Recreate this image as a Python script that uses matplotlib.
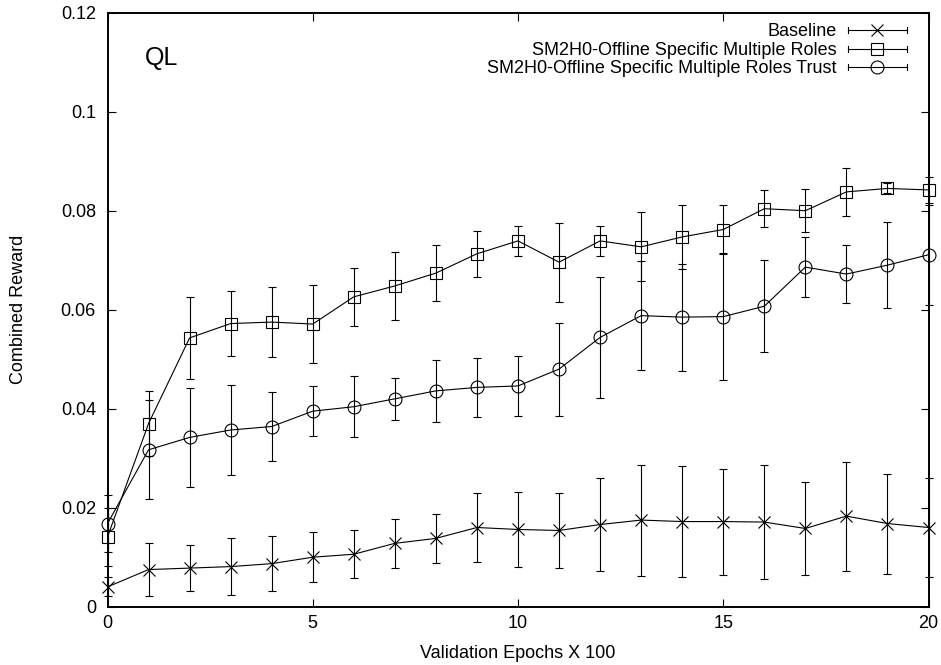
import matplotlib
matplotlib.use("Agg")
import matplotlib.pyplot as plt
from matplotlib.lines import Line2D
from matplotlib.legend_handler import HandlerBase

plt.rcParams['font.family'] = ['Liberation Sans', 'DejaVu Sans']

epochs = list(range(21))

baseline = [0.0040, 0.0075, 0.0078, 0.0081, 0.0087, 0.0100, 0.0106, 0.0128, 0.0138, 0.0160, 0.0156,
            0.0154, 0.0166, 0.0175, 0.0172, 0.0172, 0.0171, 0.0158, 0.0183, 0.0168, 0.0160]
baseline_err = [0.0019, 0.0054, 0.0046, 0.0058, 0.0056, 0.0051, 0.0049, 0.0050, 0.0050, 0.0070, 0.0075,
                0.0075, 0.0093, 0.0112, 0.0112, 0.0107, 0.0116, 0.0094, 0.0110, 0.0101, 0.0101]

roles = [0.0141, 0.0370, 0.0543, 0.0572, 0.0575, 0.0571, 0.0626, 0.0648, 0.0674, 0.0713, 0.0739,
         0.0696, 0.0739, 0.0727, 0.0747, 0.0762, 0.0804, 0.0800, 0.0838, 0.0845, 0.0842]
roles_err = [0.0059, 0.0066, 0.0082, 0.0066, 0.0071, 0.0078, 0.0058, 0.0068, 0.0057, 0.0047, 0.0030,
             0.0080, 0.0031, 0.0070, 0.0065, 0.0050, 0.0037, 0.0044, 0.0048, 0.0010, 0.0027]

trust = [0.0168, 0.0317, 0.0342, 0.0357, 0.0364, 0.0395, 0.0404, 0.0420, 0.0436, 0.0443, 0.0446,
         0.0480, 0.0544, 0.0588, 0.0585, 0.0586, 0.0607, 0.0686, 0.0672, 0.0690, 0.0711]
trust_err = [0.0058, 0.0100, 0.0100, 0.0090, 0.0069, 0.0050, 0.0062, 0.0042, 0.0063, 0.0060, 0.0061,
             0.0094, 0.0122, 0.0110, 0.0108, 0.0128, 0.0093, 0.0060, 0.0058, 0.0087, 0.0101]

labels = ["Baseline",
          "SM2H0-Offline Specific Multiple Roles",
          "SM2H0-Offline Specific Multiple Roles Trust"]
markers = ["x", "s", "o"]
xticks = [0, 5, 10, 15, 20]
xtick_labels = ["0", "5", "10", "15", "20"]
yticks = [0, 0.02, 0.04, 0.06, 0.08, 0.10, 0.12]
ytick_labels = ["0", "0.02", "0.04", "0.06", "0.08", "0.1", "0.12"]

FS = 13
W, H = 941, 665
fig = plt.figure(figsize=(W / 100, H / 100), dpi=100)
L, R, T, B = 107.5, 928.5, 12.7, 606.7
ax = fig.add_axes([L / W, 1 - B / H, (R - L) / W, (B - T) / H])

LW = 0.8
series = [(baseline, baseline_err), (roles, roles_err), (trust, trust_err)]
handles = []
for (vals, errs), m in zip(series, markers):
    eb = ax.errorbar(epochs, vals, yerr=errs, color="black", lw=LW, elinewidth=LW,
                     capsize=3, capthick=LW, marker=m, ms=9.3, mfc="none", mec="black",
                     mew=LW, clip_on=False, zorder=3)
    for art in eb.lines[1] + eb.lines[2]:
        art.set_clip_on(False)
    handles.append(eb.lines[0])


class HandlerKey(HandlerBase):
    def create_artists(self, legend, orig_handle, xdescent, ydescent, width, height,
                       fontsize, trans):
        y = height / 2 - ydescent
        x0, x1 = -xdescent, width - xdescent
        cap = 2.2
        arts = [
            Line2D([x0, x1], [y, y], color="black", lw=LW),
            Line2D([x0, x0], [y - cap, y + cap], color="black", lw=LW),
            Line2D([x1, x1], [y - cap, y + cap], color="black", lw=LW),
            Line2D([(x0 + x1) / 2], [y], marker=orig_handle.get_marker(),
                   ms=orig_handle.get_markersize(), mfc="none", mec="black", mew=LW,
                   linestyle="none"),
        ]
        for a in arts:
            a.set_transform(trans)
        return arts


leg = ax.legend(handles, labels, handler_map={h: HandlerKey() for h in handles},
                loc="upper right", bbox_to_anchor=(906.7 / W, 1 - 23.5 / H),
                bbox_transform=fig.transFigure, frameon=False, markerfirst=False,
                fontsize=FS, handlelength=3.25, handletextpad=0.62, labelspacing=0.08,
                borderpad=0, borderaxespad=0)

ax.set_xlim(0, 20)
ax.set_ylim(0, 0.12)
ax.set_xticks(xticks)
ax.set_xticklabels(xtick_labels)
ax.set_yticks(yticks)
ax.set_yticklabels(ytick_labels)
ax.tick_params(direction="in", length=5.7, width=LW, top=True, right=True,
               labelsize=FS, colors="black")
ax.tick_params(axis="y", pad=8.3)
ax.tick_params(axis="x", pad=6.3)
for s in ax.spines.values():
    s.set_linewidth(1.4)

fig.text(162 / W, 1 - 58 / H, "QL", fontsize=18, ha="center", va="center")
fig.text(18.5 / W, 1 - 309.7 / H, "Combined Reward", rotation=90, fontsize=FS,
         ha="center", va="center")
fig.text((L + R) / 2 / W, 1 - 653 / H, "Validation Epochs X 100", fontsize=FS,
         ha="center", va="center")

fig.savefig("out.png", dpi=100)
